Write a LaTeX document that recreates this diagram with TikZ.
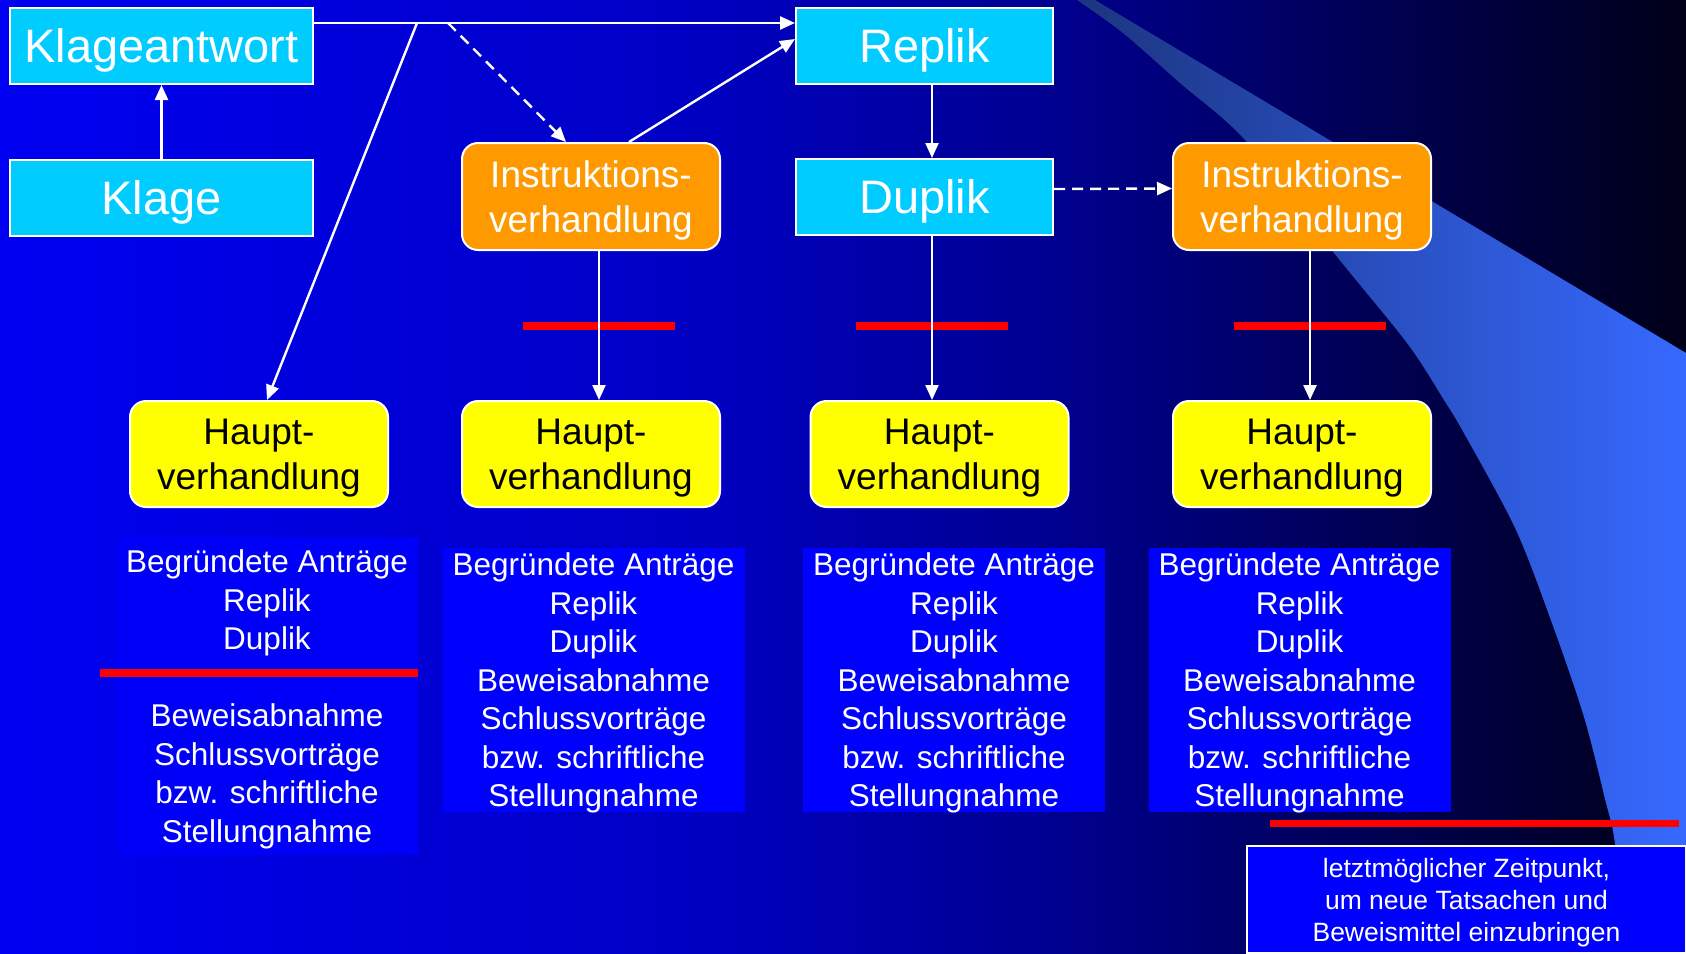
\documentclass[tikz,border=0pt]{standalone}
\usepackage{fontspec}
\setmainfont{Liberation Sans}
\usetikzlibrary{arrows.meta,calc}

\definecolor{bgA}{HTML}{0000F2}
\definecolor{bgB}{HTML}{0000C3}
\definecolor{bgC}{HTML}{000090}
\definecolor{bgD}{HTML}{000018}
\definecolor{swooshA}{HTML}{1C3580}
\definecolor{swooshB}{HTML}{3669FF}
\definecolor{cyanbox}{HTML}{00CCFF}
\definecolor{orangebox}{HTML}{FF9900}
\definecolor{yellowbox}{HTML}{FFFF00}
\definecolor{listblue}{HTML}{0000FF}
\definecolor{listfaint}{HTML}{0000F8}

\begin{document}
\begin{tikzpicture}[x=1pt,y=-1pt,
            box/.style={draw=white,line width=2pt,fill=cyanbox,text=white,inner sep=0pt,minimum height=76pt,text depth=1pt,font=\fontsize{47}{56}\selectfont},
            instr/.style={draw=white,line width=2pt,fill=orangebox,text=white,rounded corners=16pt,inner sep=0pt,minimum width=258pt,minimum height=107pt,align=center,text depth=-1.2pt,font=\fontsize{37}{45}\selectfont},
            haupt/.style={instr,fill=yellowbox,text=black,minimum height=106pt},
            liste/.style={fill=listblue,text=white,inner sep=0pt,minimum width=302pt,minimum height=264pt,align=center,text depth=-2.4pt,font=\fontsize{31.5}{38.5}\selectfont},
            note/.style={draw=white,line width=2pt,fill=listblue,text=white,inner sep=0pt,minimum width=439pt,minimum height=107pt,align=center,text depth=-3.4pt,font=\fontsize{26.5}{32}\selectfont},
            arr/.style={draw=white,line width=2.4pt,-{Triangle[length=15pt,width=13pt]}},
            dasharr/.style={arr,dash pattern=on 11pt off 7pt},
            redbar/.style={draw=red,line width=8pt}
          ]
          \useasboundingbox (0,0) rectangle (1686,953);

          %background
          \shade[left color=bgA,right color=bgB] (0,0) rectangle (691,953);
          \shade[left color=bgB,right color=bgC] (690,0) rectangle (1051,953);
          \shade[left color=bgC,right color=bgD] (1050,0) rectangle (1686,953);
          \shade[left color=swooshA,right color=swooshB]
            plot[smooth] coordinates {(1077,0) (1123,33) (1180,83) (1245,140) (1334,253) (1407,343) (1444,400) (1465,435) (1516,530) (1553,626) (1584,717) (1605,799) (1615,844) (1625,953)}
            -- (1686,953) -- (1686,353) -- (1095,0) -- cycle;

          %boxes
          \node[box,minimum width=303pt] (antwort) at (161.5,46) {Klageantwort};
          \node[box,minimum width=303pt] (klage) at (161.5,197.5) {Klage};
          \node[box,minimum width=257pt] (replik) at (924.5,46) {Replik};
          \node[box,minimum width=257pt] (duplik) at (924.5,197) {Duplik};
          \node[instr] (instr1) at (591,196.5) {Instruktions-\\verhandlung};
          \node[instr] (instr2) at (1302,196.5) {Instruktions-\\verhandlung};
          \node[haupt] (haupt1) at (259,454) {Haupt-\\verhandlung};
          \node[haupt] (haupt2) at (591,454) {Haupt-\\verhandlung};
          \node[haupt] (haupt3) at (939.5,454) {Haupt-\\verhandlung};
          \node[haupt] (haupt4) at (1302,454) {Haupt-\\verhandlung};

          %lists
          \node[liste,fill=listfaint,minimum height=318pt] (list1) at (267,696) {Begründete Anträge\\Replik\\Duplik\\[38.5pt]Beweisabnahme\\Schlussvorträge\\bzw. schriftliche\\Stellungnahme};
          \node[liste] (list2) at (593.5,680) {Begründete Anträge\\Replik\\Duplik\\Beweisabnahme\\Schlussvorträge\\bzw. schriftliche\\Stellungnahme};
          \node[liste] (list3) at (954,680) {Begründete Anträge\\Replik\\Duplik\\Beweisabnahme\\Schlussvorträge\\bzw. schriftliche\\Stellungnahme};
          \node[liste] (list4) at (1299.5,680) {Begründete Anträge\\Replik\\Duplik\\Beweisabnahme\\Schlussvorträge\\bzw. schriftliche\\Stellungnahme};
          \node[note] (note) at (1466.5,899.5) {letztmöglicher Zeitpunkt,\\um neue Tatsachen und\\Beweismittel einzubringen};

          %bars
          \draw[redbar] (523,326) -- (675,326);
          \draw[redbar] (856,326) -- (1008,326);
          \draw[redbar] (1234,326) -- (1386,326);
          \draw[redbar] (100,673) -- (418,673);
          \draw[redbar,line width=7pt] (1270,823) -- (1679,823);

          %arrows
          \coordinate (j1) at (417,23);
          \coordinate (j2) at (448,23);
          \path
          (klage) edge[arr] (antwort)
          ([yshift=23pt]antwort.east) edge[arr] ([yshift=23pt]replik.west)
          (j1) edge[arr] ([xshift=8pt]haupt1.north)
          (j2) edge[dasharr] ([xshift=-25pt]instr1.north)
          ([xshift=38pt]instr1.north) edge[arr] ([yshift=7pt]replik.west)
          ([xshift=7.5pt]replik.south) edge[arr] ([xshift=7.5pt]duplik.north)
          ([yshift=8pt]duplik.east) edge[dasharr] ([yshift=8pt]instr2.west)
          ([xshift=8pt]instr1.south) edge[arr] ([xshift=8pt]haupt2.north)
          ([xshift=7.5pt]duplik.south) edge[arr] ([xshift=-7.5pt]haupt3.north)
          ([xshift=8pt]instr2.south) edge[arr] ([xshift=8pt]haupt4.north)
          ;
\end{tikzpicture}
\end{document}
